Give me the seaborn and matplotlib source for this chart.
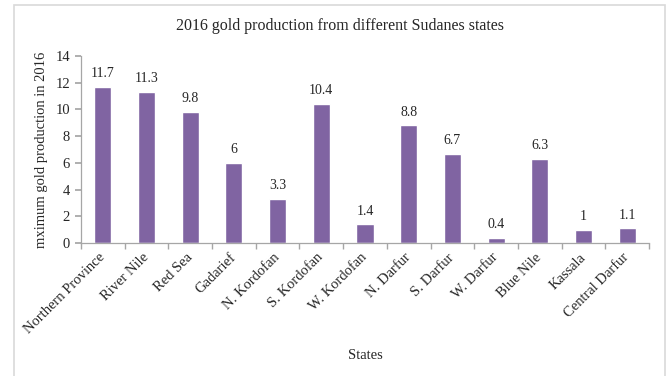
import matplotlib
matplotlib.use("Agg")
import matplotlib.pyplot as plt
import seaborn as sns
import numpy as np
import pandas as pd
from matplotlib.patches import Rectangle

states = ["Northern Province", "River Nile", "Red Sea", "Gadarief", "N. Kordofan",
          "S. Kordofan", "W. Kordofan", "N. Darfur", "S. Darfur", "W. Darfur",
          "Blue Nile", "Kassala", "Central Darfur"]
production = [11.7, 11.3, 9.8, 6, 3.3, 10.4, 1.4, 8.8, 6.7, 0.4, 6.3, 1, 1.1]
value_labels = ["11.7", "11.3", "9.8", "6", "3.3", "10.4", "1.4", "8.8", "6.7", "0.4", "6.3", "1", "1.1"]
y_ticks = [0, 2, 4, 6, 8, 10, 12, 14]

sns.set_theme(style="white")
plt.rcParams["font.family"] = ["Liberation Serif", "DejaVu Serif"]

df = pd.DataFrame({"State": states, "Production": production})

fig = plt.figure(figsize=(6.7, 3.76), dpi=100)
# light outer frame around the chart
fig.patches.append(Rectangle((14 / 670, -0.05), (665 - 14) / 670, 1 - 5 / 376 + 0.05,
                             transform=fig.transFigure, fill=False,
                             edgecolor="#d9d9d9", linewidth=1.2))
ax = fig.add_axes([81 / 670, 1 - 243 / 376, (649 - 81) / 670, (243 - 56) / 376])

sns.barplot(data=df, x="State", y="Production", color="#8064a2", saturation=1,
            width=0.39, ax=ax)

for i, (v, lab) in enumerate(zip(production, value_labels)):
    ax.text(i, v + 0.5, lab, ha="center", va="bottom", fontsize=10, color="#262626")

ax.set_xlim(-0.5, len(states) - 0.5)
ax.set_ylim(0, 14)
ax.set_yticks(y_ticks)
ax.set_yticklabels([str(t) for t in y_ticks], fontsize=10.5)
ax.set_xticks(range(len(states)))
ax.set_xticklabels(states, rotation=45, ha="right", va="center",
                   rotation_mode="anchor", fontsize=10.5)
ax.set_xticks(np.arange(len(states) + 1) - 0.5, minor=True)
ax.tick_params(axis="x", which="major", length=0, pad=9)
ax.tick_params(axis="x", which="minor", length=4, color="#a6a6a6", direction="out", bottom=True)
ax.tick_params(axis="y", length=4, color="#a6a6a6", direction="out", left=True, pad=4)
for lbl in ax.get_yticklabels() + ax.get_xticklabels():
    lbl.set_color("#262626")

for side in ["top", "right"]:
    ax.spines[side].set_visible(False)
for side in ["left", "bottom"]:
    ax.spines[side].set_color("#a6a6a6")
    ax.spines[side].set_linewidth(0.9)

ax.set_xlabel("States", fontsize=10.5, labelpad=9, color="#262626")
ax.set_ylabel("mximum gold production in 2016", fontsize=10.5, labelpad=5, color="#262626")
ax.grid(False)

fig.text(340 / 670, 1 - 26 / 376, "2016 gold production from different Sudanes states",
         ha="center", va="center", fontsize=11.5, color="#262626")

fig.savefig("out.png", dpi=100)
